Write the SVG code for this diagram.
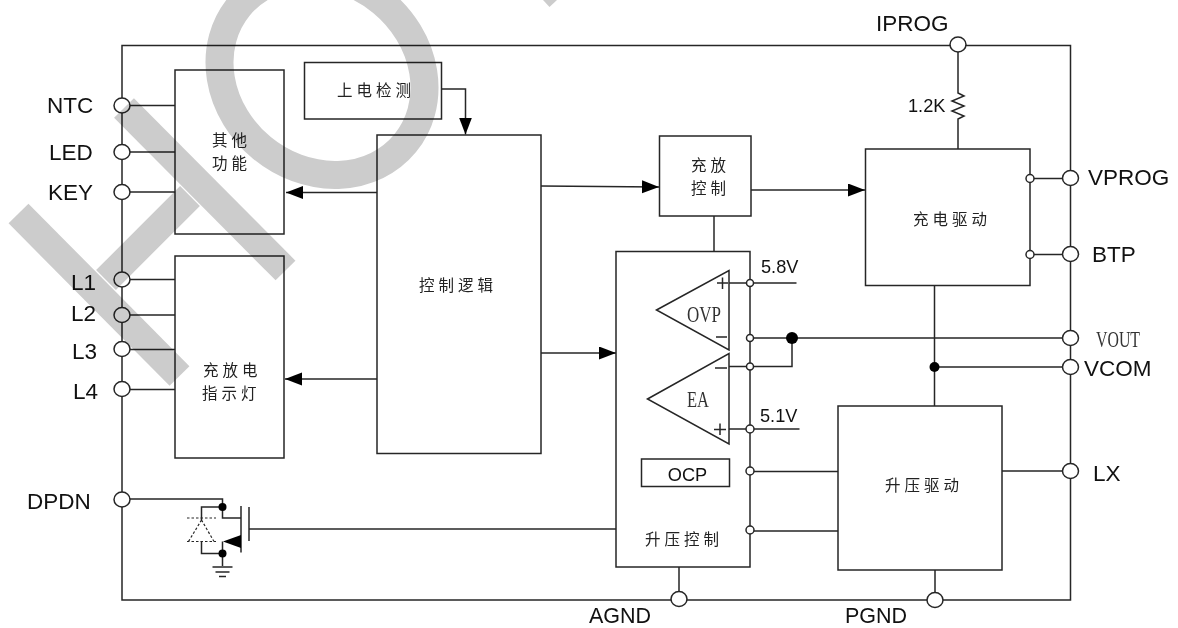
<svg xmlns="http://www.w3.org/2000/svg" width="1178" height="628" viewBox="0 0 1178 628">
<style>
.b{fill:none;stroke:#262626;stroke-width:1.5}
.l{fill:none;stroke:#262626;stroke-width:1.5}
.p{fill:#fff;stroke:#262626;stroke-width:1.5}
.d{fill:#000;stroke:none}
.dash{fill:none;stroke:#262626;stroke-width:1.2;stroke-dasharray:2.5 2}
.t{font-family:"Liberation Sans",Arial,sans-serif;font-size:22.5px;fill:#111}
.s{font-family:"Liberation Sans",Arial,sans-serif;font-size:18.2px;fill:#111}
.c{font-family:"Noto Sans CJK SC","Noto Sans",sans-serif;font-size:15.5px;font-weight:400;letter-spacing:4px;fill:#222}
.f{font-family:"Liberation Serif",serif;font-size:23px;fill:#333}
.w{mix-blend-mode:multiply}
</style>
<defs>
<marker id="a" markerUnits="userSpaceOnUse" markerWidth="18" markerHeight="14" refX="17" refY="6.5" orient="auto"><path d="M0 0L17 6.5L0 13Z" fill="#000"/></marker>
</defs>
<rect width="1178" height="628" fill="#fff"/>
<g id="connectors">
<path class="l" d="M122 45.500H1070.500V600H122Z"/>
<path class="l" d="M130 105.500H175M130 152H175M130 192H175M130 279.500H175M130 315H175M130 349.500H175M130 389.500H175"/>
<path class="l" marker-end="url(#a)" d="M377 192.500H286"/>
<path class="l" marker-end="url(#a)" d="M377 379H285"/>
<path class="l" marker-end="url(#a)" d="M441.500 89H465.500V134.500"/>
<path class="l" marker-end="url(#a)" d="M541 186L659 187"/>
<path class="l" marker-end="url(#a)" d="M541 353H616"/>
<path class="l" marker-end="url(#a)" d="M751 190H865"/>
<path class="l" d="M714 216V251.500"/>
<path class="l" d="M958 52V93L964 96L952 101L964 106L952 111L964 116L958 119V149"/>
<path class="l" d="M1030 178.500H1062M1030 254.500H1062"/>
<path class="l" d="M934.500 285.500V406M934.500 367H1062"/>
<path class="l" d="M750 283H796.500M729 283H750M750 338H1062M729 366.500H792V338M729 429H799.500"/>
<path class="l" d="M750 471.500H838M750 531H838M1002 471H1062"/>
<path class="l" d="M249 529H616"/>
<path class="l" d="M679 567V592M935 570V592"/>
<path class="l" d="M130 499H222.500V518H241M201.500 520V507H222.500M201.500 541V553.500H222.500V566M222.500 541.500V553"/>
</g>
<g id="mosfet">
<path class="l" d="M241 506V552.500"/>
<path class="l" d="M249 507V541"/>
<path class="d" d="M223 541.500L241 535V548Z"/>
<circle class="d" cx="222.500" cy="507" r="4"/>
<circle class="d" cx="222.500" cy="553.500" r="4"/>
<path class="dash" d="M187 518H216M187 541.500H216M201.500 520L188.500 541.500M201.500 520L214 541.500"/>
<path class="l" d="M212.500 567H232.500M215.500 572H229.500M219 576.500H226"/>
</g>
<g id="other-functions">
<rect class="b" x="175" y="70" width="109" height="164"/>
<text class="c" x="212" y="146">其他</text>
<text class="c" x="212" y="169">功能</text>
</g>
<g id="charge-indicator">
<rect class="b" x="175" y="256" width="109" height="202"/>
<text class="c" x="203" y="376">充放电</text>
<text class="c" x="202" y="399">指示灯</text>
</g>
<g id="power-detect">
<rect class="b" x="304.500" y="62.500" width="137" height="56.500"/>
<text class="c" x="337" y="96">上电检测</text>
</g>
<g id="control-logic">
<rect class="b" x="377" y="135" width="164" height="318.500"/>
<text class="c" x="419" y="291">控制逻辑</text>
</g>
<g id="charge-control">
<rect class="b" x="659.500" y="136" width="91.500" height="80"/>
<text class="c" x="691" y="171">充放</text>
<text class="c" x="691" y="194">控制</text>
</g>
<g id="charge-driver">
<rect class="b" x="865.500" y="149" width="164.500" height="136.500"/>
<text class="c" x="913" y="225">充电驱动</text>
</g>
<g id="boost-control">
<rect class="b" x="616" y="251.500" width="134" height="315.500"/>
<text class="c" x="645" y="545">升压控制</text>
</g>
<g id="boost-driver">
<rect class="b" x="838" y="406" width="164" height="164"/>
<text class="c" x="885" y="491">升压驱动</text>
</g>
<g id="ocp">
<rect class="b" x="641.500" y="459" width="88" height="27.500"/>
<text class="s" x="687.500" y="480.500" text-anchor="middle">OCP</text>
</g>
<g id="ovp">
<path class="b" d="M656.500 310L729 270.500V350Z"/>
<text class="f" x="687" y="321.500" textLength="34" lengthAdjust="spacingAndGlyphs">OVP</text>
<path class="l" d="M717 283H728M722.500 277.500V289M716 337H727"/>
</g>
<g id="ea">
<path class="b" d="M647.500 399L729 353.500V444Z"/>
<text class="f" x="687" y="407" textLength="22" lengthAdjust="spacingAndGlyphs">EA</text>
<path class="l" d="M715 368H727M714 429.500H726M720 423.500V435"/>
</g>
<g id="internal-pins">
<circle class="p" cx="750" cy="283" r="3.500"/>
<circle class="p" cx="750" cy="338" r="3.500"/>
<circle class="p" cx="750" cy="366.500" r="3.500"/>
<circle class="p" cx="750" cy="429" r="4"/>
<circle class="p" cx="750" cy="471" r="4"/>
<circle class="p" cx="750" cy="530" r="4"/>
<circle class="p" cx="1030" cy="178.500" r="4"/>
<circle class="p" cx="1030" cy="254.500" r="4"/>
<circle class="d" cx="792" cy="338" r="6"/>
<circle class="d" cx="934.500" cy="367" r="5"/>
<text class="s" x="761" y="273">5.8V</text>
<text class="s" x="760" y="422">5.1V</text>
<text class="s" x="908" y="112">1.2K</text>
</g>
<g id="pin-NTC"><ellipse class="p" cx="122" cy="105.500" rx="8" ry="7.500"/><text class="t" x="47" y="113">NTC</text></g>
<g id="pin-LED"><ellipse class="p" cx="122" cy="152" rx="8" ry="7.500"/><text class="t" x="49" y="160">LED</text></g>
<g id="pin-KEY"><ellipse class="p" cx="122" cy="192" rx="8" ry="7.500"/><text class="t" x="48" y="200">KEY</text></g>
<g id="pin-L1"><ellipse class="p" cx="122" cy="279.500" rx="8" ry="7.500"/><text class="t" x="71" y="290">L1</text></g>
<g id="pin-L2"><ellipse class="p" cx="122" cy="315" rx="8" ry="7.500"/><text class="t" x="71" y="321">L2</text></g>
<g id="pin-L3"><ellipse class="p" cx="122" cy="349" rx="8" ry="7.500"/><text class="t" x="72" y="359">L3</text></g>
<g id="pin-L4"><ellipse class="p" cx="122" cy="389" rx="8" ry="7.500"/><text class="t" x="73" y="399">L4</text></g>
<g id="pin-DPDN"><ellipse class="p" cx="122" cy="499.500" rx="8" ry="7.500"/><text class="t" x="27" y="509">DPDN</text></g>
<g id="pin-IPROG"><ellipse class="p" cx="958" cy="44.500" rx="8" ry="7.500"/><text class="t" x="876" y="31">IPROG</text></g>
<g id="pin-VPROG"><ellipse class="p" cx="1070.500" cy="178" rx="8" ry="7.500"/><text class="t" x="1088" y="185">VPROG</text></g>
<g id="pin-BTP"><ellipse class="p" cx="1070.500" cy="254" rx="8" ry="7.500"/><text class="t" x="1092" y="262">BTP</text></g>
<g id="pin-VOUT"><ellipse class="p" cx="1070.500" cy="338" rx="8" ry="7.500"/><text class="f" x="1096" y="347" textLength="44" lengthAdjust="spacingAndGlyphs">VOUT</text></g>
<g id="pin-VCOM"><ellipse class="p" cx="1070.500" cy="367" rx="8" ry="7.500"/><text class="t" x="1084" y="376">VCOM</text></g>
<g id="pin-LX"><ellipse class="p" cx="1070.500" cy="471" rx="8" ry="7.500"/><text class="t" x="1093" y="481">LX</text></g>
<g id="pin-AGND"><ellipse class="p" cx="679" cy="599" rx="8" ry="7.500"/><text class="t" x="589" y="623" style="font-size:21.5px">AGND</text></g>
<g id="pin-PGND"><ellipse class="p" cx="935" cy="600" rx="8" ry="7.500"/><text class="t" x="845" y="623" style="font-size:21.5px">PGND</text></g>
<g class="w" fill="none" stroke="#ccc" stroke-width="28">
<ellipse cx="322" cy="75" rx="107.600" ry="94.500" transform="rotate(39.500 322 75)"/>
<path d="M124 108L285.500 270.500"/>
<path d="M18.500 213.500L179.500 376"/>
<path d="M106 280L190 196"/>
<path d="M543 0L549.500 7L557 0Z" fill="#ccc" stroke="none"/>
</g>
</svg>
